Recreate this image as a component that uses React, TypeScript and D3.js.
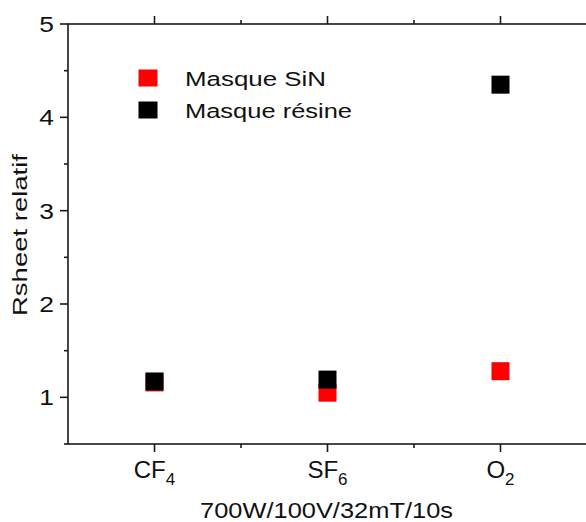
import * as d3 from 'd3';

// gases on the x axis (formula + subscript)
const gases = ['CF', 'SF', 'O'];
const gasSubs = ['4', '6', '2'];
const gasPos = [1, 2, 3];

// relative sheet resistance per mask
const sinValues = [1.16, 1.05, 1.28];
const resineValues = [1.17, 1.19, 4.35];

const seriesNames = ['Masque SiN', 'Masque résine'];
const seriesColors = ['#ff0000', '#000000'];

const yMajor = [1, 2, 3, 4, 5];
const yMinor = [0.5, 1.5, 2.5, 3.5, 4.5];
const xMinor = [1.5, 2.5];

export default function App() {
  const W = 586;
  const H = 522;
  const left = 68;
  const right = 587;
  const top = 24;
  const bottom = 444;

  const x = d3.scaleLinear().domain([0.5, 3.5]).range([left, right]);
  const y = d3.scaleLinear().domain([0.5, 5]).range([bottom, top]);

  const axisColor = '#1a1a1a';
  const font = "'Liberation Sans', Arial, sans-serif";
  const mk = 18;

  const series = [sinValues, resineValues];

  return (
    <div style={{ position: 'absolute', left: 0, top: 0 }}>
      <svg width={W} height={H} style={{ display: 'block', background: '#fff' }} fontFamily={font}>
        {/* frame */}
        <rect
          x={left}
          y={top}
          width={right - left}
          height={bottom - top}
          fill="none"
          stroke={axisColor}
          strokeWidth={1.6}
        />

        {/* y ticks */}
        {yMajor.map((v) => (
          <g key={'ym' + v}>
            <line x1={left - 8} x2={left} y1={y(v)} y2={y(v)} stroke={axisColor} strokeWidth={1.6} />
            <text
              transform={`translate(${left - 14},${y(v) + 8}) scale(1.2,1)`}
              textAnchor="end"
              fontSize={22}
              fill="#111"
            >
              {v}
            </text>
          </g>
        ))}
        {yMinor.map((v) => (
          <line key={'yn' + v} x1={left - 4} x2={left} y1={y(v)} y2={y(v)} stroke={axisColor} strokeWidth={1.6} />
        ))}

        {/* x ticks, bottom and top */}
        {gasPos.map((p, i) => (
          <g key={'xm' + p}>
            <line x1={x(p)} x2={x(p)} y1={bottom} y2={bottom + 8} stroke={axisColor} strokeWidth={1.6} />
            <line x1={x(p)} x2={x(p)} y1={top} y2={top - 8} stroke={axisColor} strokeWidth={1.6} />
            <text x={x(p)} y={477.5} textAnchor="middle" fontSize={24} fill="#111">
              {gases[i]}
              <tspan fontSize={17} dy={7.5}>
                {gasSubs[i]}
              </tspan>
            </text>
          </g>
        ))}
        {xMinor.map((p) => (
          <g key={'xn' + p}>
            <line x1={x(p)} x2={x(p)} y1={bottom} y2={bottom + 4} stroke={axisColor} strokeWidth={1.6} />
            <line x1={x(p)} x2={x(p)} y1={top} y2={top - 4} stroke={axisColor} strokeWidth={1.6} />
          </g>
        ))}

        {/* axis titles */}
        <text
          x={326.5}
          y={517.5}
          textAnchor="middle"
          fontSize={22}
          textLength={253}
          lengthAdjust="spacingAndGlyphs"
          fill="#111"
        >
          700W/100V/32mT/10s
        </text>
        <text
          transform={`translate(27,235) rotate(-90)`}
          textAnchor="middle"
          fontSize={19.5}
          textLength={162}
          lengthAdjust="spacingAndGlyphs"
          fill="#111"
        >
          Rsheet relatif
        </text>

        {/* data markers, red drawn first so black sits on top */}
        {series.map((vals, si) =>
          vals.map((v, i) => (
            <rect
              key={'p' + si + '-' + i}
              x={x(gasPos[i]) - mk / 2}
              y={y(v) - mk / 2}
              width={mk}
              height={mk}
              fill={seriesColors[si]}
            />
          ))
        )}

        {/* legend */}
        {seriesNames.map((name, i) => (
          <g key={'lg' + i}>
            <rect x={138.5} y={69.5 + i * 32} width={19} height={17} fill={seriesColors[i]} />
            <text
              x={185}
              y={86 + i * 32}
              fontSize={20.5}
              textLength={i === 0 ? 141 : 167}
              lengthAdjust="spacingAndGlyphs"
              fill="#111"
            >
              {name}
            </text>
          </g>
        ))}
      </svg>
    </div>
  );
}
